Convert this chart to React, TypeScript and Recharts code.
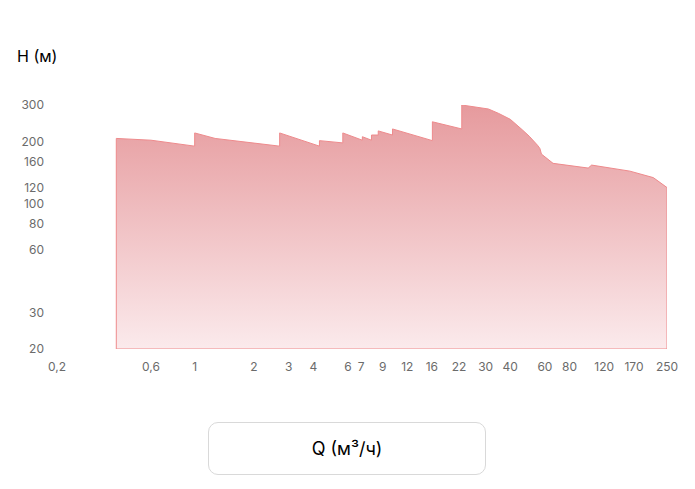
import React from 'react'
import { AreaChart, Area, XAxis, YAxis } from 'recharts'

// pump curve envelope: flow Q (m3/h) vs head H (m), polygon closed along the 20 m baseline
const flowQ = [
  0.4, 0.4, 0.6, 1.0, 1.0, 1.27, 2.7, 2.7, 4.3, 4.3, 5.65, 5.65, 7.1, 7.1, 7.9, 7.9, 8.55, 8.55,
  10.1, 10.1, 16.1, 16.1, 22.7, 22.7, 31, 35, 40, 46, 50, 55, 56.6, 57.6, 66, 99.5, 103.6, 162,
  213, 250, 250, 0.4,
]
const headH = [
  20, 207, 203, 190, 220, 207, 190, 220, 190, 202, 197, 220, 203, 211, 203, 215, 215, 225,
  215, 230, 202, 249, 230, 300, 287, 273, 256, 228, 212, 192, 185, 174, 157, 149, 154, 144,
  134, 120, 20, 20,
]

const xTicks = [0.2, 0.6, 1, 2, 3, 4, 6, 7, 9, 12, 16, 22, 30, 40, 60, 80, 120, 170, 250]
const yTicks = [20, 30, 60, 80, 100, 120, 160, 200, 300]

const data = flowQ.map((q, i) => ({ q, h: headH[i] }))

const tickStyle = { fontSize: 12, fill: '#6b6b6b', fontFamily: 'Inter, sans-serif' }

export default function App() {
  return (
    <div
      style={{
        position: 'absolute',
        left: 0,
        top: 0,
        width: 695,
        height: 489,
        background: '#fff',
        fontFamily: 'Inter, sans-serif',
      }}
    >
      <div
        style={{
          position: 'absolute',
          left: 17,
          top: 46,
          fontSize: 16,
          fontWeight: 400,
          color: '#000',
        }}
      >
        H (м)
      </div>

      <div style={{ position: 'absolute', left: 0, top: 0 }}>
        <AreaChart
          width={695}
          height={400}
          data={data}
          margin={{ top: 105, right: 28, left: 7, bottom: 21 }}
        >
          <defs>
            <linearGradient id="fillH" x1="0" y1="0" x2="0" y2="1">
              <stop offset="0%" stopColor="#e69a9d" />
              <stop offset="100%" stopColor="#fbeaec" />
            </linearGradient>
          </defs>
          <XAxis
            dataKey="q"
            type="number"
            scale="log"
            domain={[0.2, 250]}
            ticks={xTicks}
            interval={0}
            allowDataOverflow
            axisLine={false}
            tickLine={false}
            tickMargin={7}
            height={30}
            tick={tickStyle}
            tickFormatter={(v: number) => String(v).replace('.', ',')}
          />
          <YAxis
            dataKey="h"
            type="number"
            scale="log"
            domain={[20, 300]}
            ticks={yTicks}
            interval={0}
            allowDataOverflow
            axisLine={false}
            tickLine={false}
            tickMargin={7}
            width={50}
            tick={tickStyle}
          />
          <Area
            type="linear"
            dataKey="h"
            baseValue={20}
            stroke="#ee8a8c"
            strokeWidth={1}
            fill="url(#fillH)"
            fillOpacity={1}
            isAnimationActive={false}
            dot={false}
            activeDot={false}
          />
        </AreaChart>
      </div>

      <div
        style={{
          position: 'absolute',
          left: 208,
          top: 422,
          width: 278,
          height: 53,
          boxSizing: 'border-box',
          border: '1px solid #d9d9d9',
          borderRadius: 10,
          display: 'flex',
          alignItems: 'center',
          justifyContent: 'center',
          fontSize: 18,
          fontWeight: 400,
          color: '#000',
        }}
      >
        Q (м³/ч)
      </div>
    </div>
  )
}
